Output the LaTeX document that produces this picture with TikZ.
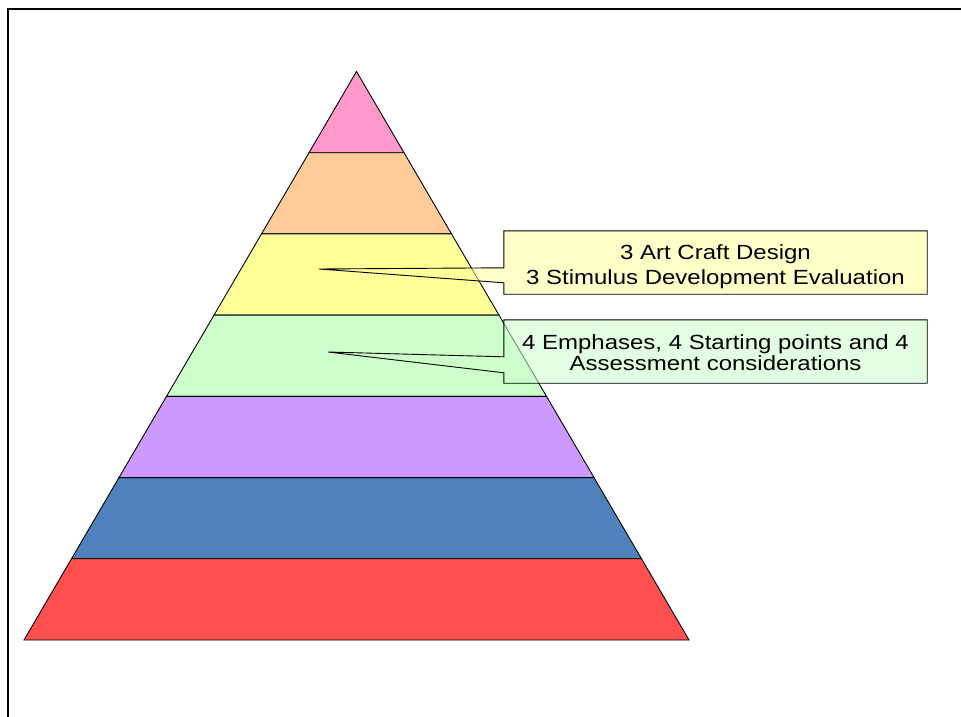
\documentclass[tikz,border=0pt]{standalone}
\usepackage{fontspec}
\setmainfont{Liberation Sans}
\newfontfamily\callfont[FakeStretch=1.17]{Liberation Sans}
\usetikzlibrary{calc}
\definecolor{pyrpink}{HTML}{FF99CC}
\definecolor{pyrpeach}{HTML}{FFCC99}
\definecolor{pyryellow}{HTML}{FFFF99}
\definecolor{pyrgreen}{HTML}{CCFFCC}
\definecolor{pyrlav}{HTML}{CC99FF}
\definecolor{pyrblue}{HTML}{4F81BD}
\definecolor{pyrred}{HTML}{FF5050}
\tikzset{
  band/.style={draw=black, line width=0.9pt, line join=miter},
  frameline/.style={draw=black, line width=2pt},
  boxnode/.style={rectangle, inner sep=0pt, minimum width=423pt, minimum height=63pt},
  callout/.style={draw=black, line width=0.9pt, fill opacity=0.55},
  calltext/.style={anchor=base, inner sep=0pt, font=\callfont\fontsize{20.5}{24}\selectfont, text=black}
}
\begin{document}
\begin{tikzpicture}[x=1pt,y=-1pt]
\useasboundingbox (0,0) rectangle (961,717);
% frame
\coordinate (fbl) at (8,717);
\coordinate (ftl) at (8,9);
\coordinate (ftr) at (961,9);
\draw[frameline] (fbl) -- (ftl) -- (ftr);
% pyramid
\coordinate (A) at (356.5,71.5);
\coordinate (BL) at (24,640);
\coordinate (BR) at (689,640);
\foreach \c [count=\i from 0] in {pyrpink,pyrpeach,pyryellow,pyrgreen,pyrlav,pyrblue,pyrred}{
  \pgfmathsetmacro\ta{\i/7}
  \pgfmathsetmacro\tb{(\i+1)/7}
  \draw[band, fill=\c] ($(A)!\ta!(BL)$) -- ($(A)!\tb!(BL)$) -- ($(A)!\tb!(BR)$) -- ($(A)!\ta!(BR)$) -- cycle;
}
% callout 1
\node[boxnode] (b1) at (715.5,262.5) {};
\coordinate (t1) at (319,269);
\draw[callout, fill=pyryellow] (b1.north west) -- (b1.north east) -- (b1.south east) -- (b1.south west)
  -- ($(b1.north west)+(0,52)$) -- (t1) -- ($(b1.north west)+(0,37)$) -- cycle;
\node[calltext] (l1a) at (715.5,259) {3 Art Craft Design};
\node[calltext] (l1b) at (715.5,284) {3 Stimulus Development Evaluation};
% callout 2
\node[boxnode] (b2) at (715.5,351.5) {};
\coordinate (t2) at (328,352);
\draw[callout, fill=pyrgreen] (b2.north west) -- (b2.north east) -- (b2.south east) -- (b2.south west)
  -- ($(b2.north west)+(0,53)$) -- (t2) -- ($(b2.north west)+(0,37)$) -- cycle;
\node[calltext] (l2a) at (715.5,349) {4 Emphases, 4 Starting points and 4};
\node[calltext] (l2b) at (715.5,370) {Assessment considerations};
\end{tikzpicture}
\end{document}
